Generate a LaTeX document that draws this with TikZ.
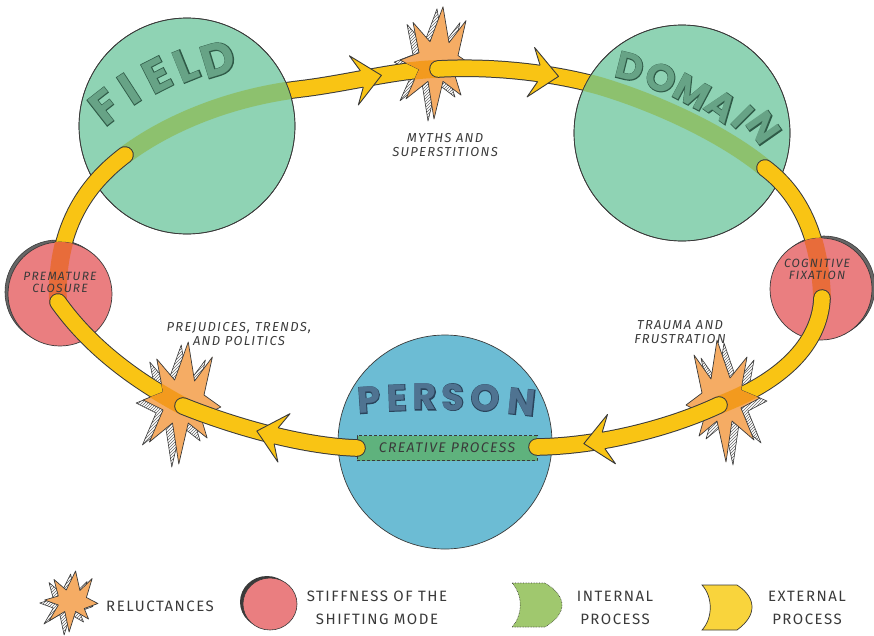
\documentclass[tikz,border=0pt]{standalone}
\usepackage{fontspec}
\usetikzlibrary{patterns,decorations.markings}

\newfontfamily\bigfont{Poppins}
\newfontfamily\bigrim{Poppins}[BoldFeatures={FakeBold=3.5}]
\newfontfamily\handfont{Fira Sans}[LetterSpace=10]

\definecolor{bandyellow}{HTML}{F9C414}
\definecolor{inkline}{HTML}{3A3A3A}
\definecolor{mint}{HTML}{8FD3B4}
\definecolor{minttint}{HTML}{8DC16E}
\definecolor{stiffred}{HTML}{EA7E80}
\definecolor{stifftint}{HTML}{E86C3A}
\definecolor{burstorange}{HTML}{F5AC64}
\definecolor{bursttint}{HTML}{F39A1E}
\definecolor{personblue}{HTML}{6CBCD4}
\definecolor{creativegreen}{HTML}{5FB27D}
\definecolor{fieldink}{HTML}{67A386}
\definecolor{fieldrim}{HTML}{2F5A47}
\definecolor{personink}{HTML}{4F7391}
\definecolor{personrim}{HTML}{2A445C}
\definecolor{keygreen}{HTML}{A0C86E}
\definecolor{keyyellow}{HTML}{F9D43C}

% outline of a reluctance burst: #1,#2 centre, #3,#4 stretch
\newcommand{\reluctpath}[4]{({#1+5*#3},{#2-60*#4}) -- ({#1+11*#3},{#2-21*#4}) -- ({#1+28*#3},{#2-45*#4}) -- ({#1+20*#3},{#2-7*#4}) -- ({#1+36*#3},{#2+5*#4}) -- ({#1+17*#3},{#2+15*#4}) -- ({#1+23*#3},{#2+36*#4}) -- ({#1+5*#3},{#2+21*#4}) -- ({#1-4*#3},{#2+62*#4}) -- ({#1-10*#3},{#2+21*#4}) -- ({#1-32*#3},{#2+40*#4}) -- ({#1-19*#3},{#2+8*#4}) -- ({#1-38*#3},{#2-2*#4}) -- ({#1-19*#3},{#2-10*#4}) -- ({#1-25*#3},{#2-43*#4}) -- ({#1-8*#3},{#2-22*#4}) -- cycle}

% big arrow head sitting on a band (#1 = 1 forward, -1 backward)
\newcommand{\bandhead}[1]{%
  \begin{scope}[xscale=#1]
    \fill[bandyellow] (14,0) -- (-14,25) -- (-6,8.5) -- (-6,-8.5) -- (-14,-25) -- cycle;
    \draw[inkline,line width=0.9pt,line join=round] (-6,8.5) -- (-14,25) -- (14,0) -- (-14,-25) -- (-6,-8.5);
  \end{scope}}

% outlined big letter: rim colour, fill colour, letter
\newcommand{\rimmed}[3]{\makebox[0pt]{\color{#1}\bigrim\bfseries #3}\makebox[0pt]{\color{#2}\bigfont\bfseries #3}}

\begin{document}
\begin{tikzpicture}[x=1pt,y=-1pt,
  band/.style={draw=inkline,line width=17.6pt,line cap=round,postaction={draw=bandyellow,line width=15.6pt,line cap=round}},
  headat/.style={postaction={decorate,decoration={markings,mark=at position #1 with {\bandhead{1}}}}},
  backheadat/.style={postaction={decorate,decoration={markings,mark=at position #1 with {\bandhead{-1}}}}},
  tint/.style={draw=#1,line width=17.8pt,line cap=round},
  globe/.style={circle,draw=inkline,line width=0.7pt,fill=#1,inner sep=0pt},
  burst/.style={fill=burstorange,draw=inkline,line width=0.7pt,line join=round},
  burstshade/.style={pattern=north east lines,pattern color=black!60,draw=inkline,line width=0.6pt,line join=round},
  rim/.style={fill=black!60,draw=inkline,line width=0.6pt},
  fieldletter/.style={font=\fontsize{46}{46}\selectfont,inner sep=0pt},
  domletter/.style={font=\fontsize{38}{38}\selectfont,inner sep=0pt},
  personletter/.style={font=\fontsize{37}{37}\selectfont,inner sep=0pt},
  tag/.style={font=\handfont\itshape\fontsize{13}{14}\selectfont,text=inkline,align=center,inner sep=0pt},
  stifftag/.style={font=\handfont\itshape\fontsize{12}{12}\selectfont,text=inkline,align=center,inner sep=0pt},
  keytag/.style={font=\handfont\fontsize{15}{23}\selectfont,text=inkline,align=center,inner sep=0pt}]
\useasboundingbox (0,0) rectangle (874,635);

% junctions of the loop
\coordinate (field-j) at (125,155);
\coordinate (myths-j) at (438,69);
\coordinate (dom-j) at (765,168);
\coordinate (fix-j) at (822,298);
\coordinate (trauma-j) at (719,405);
\coordinate (person-e) at (537,447);
\coordinate (person-w) at (357,448);
\coordinate (prej-j) at (183,406);
\coordinate (close-j) at (58,302);

\def\pfm{(field-j) .. controls (175,118) and (240,96) .. (300,89) .. controls (350,83) and (395,70) .. (myths-j)}
\def\pmd{(myths-j) .. controls (490,66) and (550,72) .. (600,86) .. controls (660,104) and (725,135) .. (dom-j)}
\def\pdf{(dom-j) .. controls (797,192) and (820,232) .. (fix-j)}
\def\pft{(fix-j) .. controls (820,345) and (780,382) .. (trauma-j)}
\def\ppt{(person-e) .. controls (600,446) and (670,428) .. (trauma-j)}
\def\ppp{(prej-j) .. controls (230,425) and (300,446) .. (person-w)}
\def\pcp{(close-j) .. controls (85,340) and (125,375) .. (prej-j)}
\def\pfc{(field-j) .. controls (92,180) and (55,222) .. (close-j)}

% shadows and rims
\draw[burstshade] \reluctpath{432}{64}{1}{0.92};
\draw[burstshade] \reluctpath{176}{405}{1.05}{1};
\draw[burstshade] \reluctpath{729}{403}{-1}{1};
\draw[rim] (57,292) circle (52);
\draw[rim] (824,287) circle (51);

% field -> myths
\draw[band,headat=-71pt] \pfm;
\coordinate (myths) at (438,62);
\draw[burst] \reluctpath{438}{62}{1}{0.92};
\begin{scope}
  \clip \reluctpath{438}{62}{1}{0.92};
  \draw[tint=bursttint] \pfm;
\end{scope}

% myths -> domain
\draw[band,headat=107pt] \pmd;
\node[globe=mint,minimum size=216pt] (domain) at (682,133) {};
\begin{scope}
  \clip (domain.center) circle (108pt);
  \draw[tint=minttint] \pmd;
\end{scope}
\draw[inkline,line width=0.7pt] (domain.center) circle (108pt);
\foreach \ch/\px/\py/\ang in {D/630/67/-14,O/661/78/-20,M/692/92/-28,A/722/106/-36,I/743/117/-45,N/764/128/-55}
  \node[domletter,rotate=\ang] (dom-\ch) at (\px,\py) {\rimmed{fieldrim}{fieldink}{\ch}};

% domain -> cognitive fixation
\draw[band] \pdf;
\node[globe=stiffred,minimum size=102pt] (fixation) at (821,289) {};
\begin{scope}
  \clip (fixation.center) circle (51pt);
  \draw[tint=stifftint] \pdf;
\end{scope}

% cognitive fixation -> trauma
\draw[band] \pft;
\coordinate (trauma) at (722,400);
\draw[burst] \reluctpath{722}{400}{-1}{1};
\begin{scope}
  \clip \reluctpath{722}{400}{-1}{1};
  \draw[tint=bursttint] \pft;
\end{scope}

% field
\node[globe=mint,minimum size=216pt] (field) at (187,126) {};
\begin{scope}
  \clip (field.center) circle (108pt);
  \draw[tint=minttint] \pfm;
\end{scope}
\draw[inkline,line width=0.7pt] (field.center) circle (108pt);
\foreach \ch/\px/\py/\ang in {F/105/107/38,I/129/89/33,E/157/75/27,L/186/65/22,D/218/59/17}
  \node[fieldletter,rotate=\ang] (field-\ch) at (\px,\py) {\rimmed{fieldrim}{fieldink}{\ch}};

% field -> premature closure
\draw[band] \pfc;
\node[globe=stiffred,minimum size=104pt] (closure) at (60,294) {};
\begin{scope}
  \clip (closure.center) circle (52pt);
  \draw[tint=stifftint] \pfc;
\end{scope}

% premature closure -> prejudices
\draw[band] \pcp;
\coordinate (prejudice) at (183,402);
\draw[burst] \reluctpath{183}{402}{1.05}{1};
\begin{scope}
  \clip \reluctpath{183}{402}{1.05}{1};
  \draw[tint=bursttint] \pcp;
\end{scope}

% person
\node[globe=personblue,minimum size=214pt] (person) at (445,442) {};
\foreach \ch/\px/\py/\ang in {P/369/400/4,E/397/398/2,R/425/397/0,S/453/397/0,O/485/398/-2,N/522/402/-6}
  \node[personletter,rotate=\ang] (person-\ch) at (\px,\py) {\rimmed{personrim}{personink}{\ch}};
\node[draw=inkline,densely dashed,line width=0.5pt,fill=creativegreen,minimum width=180pt,minimum height=25pt,inner sep=0pt,
  font=\handfont\itshape\fontsize{14}{14}\selectfont,text=inkline] (creative) at (447,448) {CREATIVE PROCESS};

% bands leaving the person
\draw[band,backheadat=92pt] \ppp;
\draw[band,backheadat=61pt] \ppt;

% labels
\node[tag] (myths-label) at (445,145) {MYTHS AND\\SUPERSTITIONS};
\node[tag] (prejudice-label) at (239,334) {PREJUDICES, TRENDS,\\AND POLITICS};
\node[tag] (trauma-label) at (680,332) {TRAUMA AND\\FRUSTRATION};
\node[stifftag] (closure-label) at (60,282) {PREMATURE\\CLOSURE};
\node[stifftag] (fixation-label) at (817,269) {COGNITIVE\\FIXATION};

% key
\draw[burstshade] \reluctpath{67}{604}{0.72}{0.5};
\draw[burst] \reluctpath{72}{601}{0.72}{0.5};
\node[keytag,anchor=west] (key-reluct) at (106,606) {RELUCTANCES};
\fill[inkline] (267,602) ellipse (27 and 26);
\draw[fill=stiffred,draw=inkline,line width=0.6pt] (270,604) ellipse (27 and 26);
\node[keytag] (key-stiff) at (377,608) {STIFFNESS OF THE\\SHIFTING MODE};
\draw[fill=keygreen,draw=inkline,densely dotted,line width=0.6pt] (512,583) -- (545,583) .. controls (557,590) and (562,598) .. (562,605) .. controls (562,612) and (557,620) .. (545,627) -- (512,627) .. controls (523,615) and (523,595) .. (512,583) -- cycle;
\node[keytag] (key-internal) at (615,608) {INTERNAL\\PROCESS};
\draw[fill=keyyellow,draw=inkline,line width=0.7pt] (702,585) -- (737,585) .. controls (748,592) and (752,600) .. (752,607) .. controls (752,614) and (748,622) .. (737,630) -- (702,630) .. controls (713,618) and (713,597) .. (702,585) -- cycle;
\node[keytag] (key-external) at (807,608) {EXTERNAL\\PROCESS};
\end{tikzpicture}
\end{document}
